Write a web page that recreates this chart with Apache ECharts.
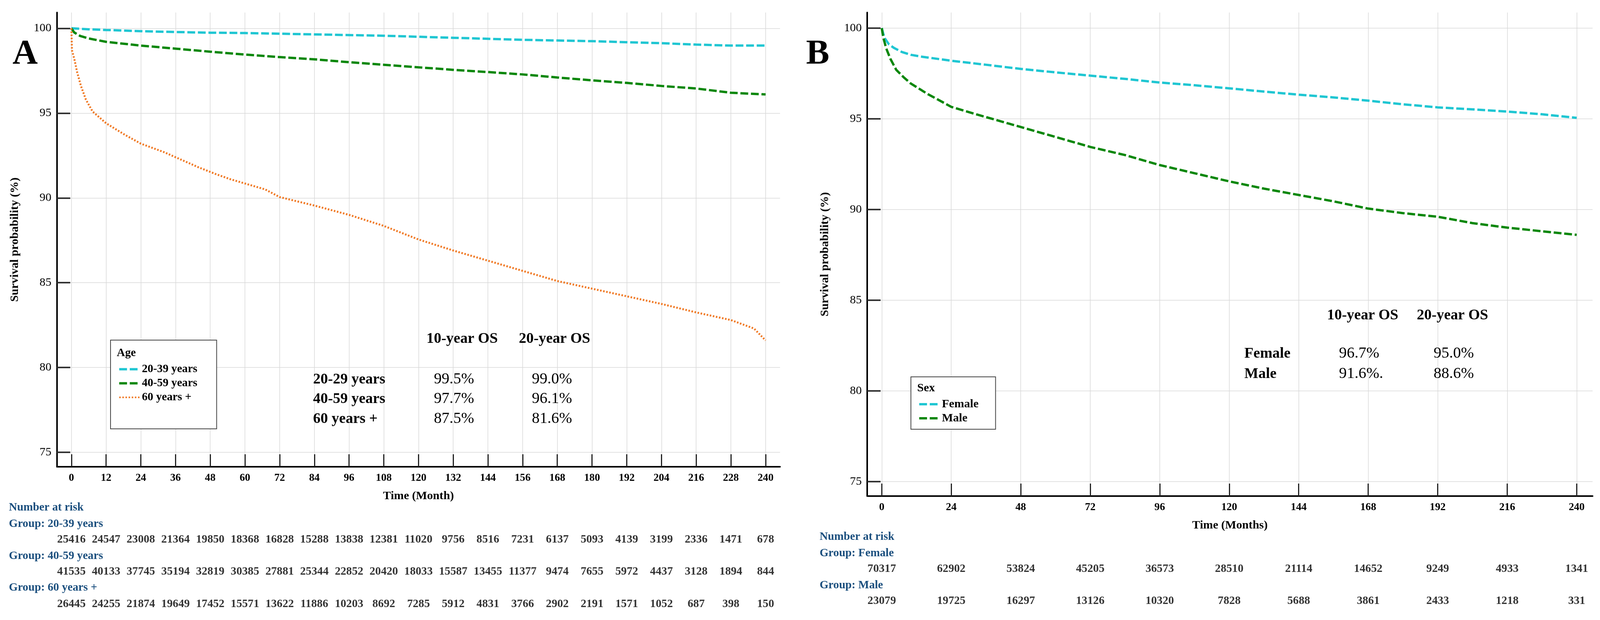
<!DOCTYPE html>
<html><head><meta charset="utf-8">
<script src="https://cdn.jsdelivr.net/npm/echarts@6/dist/echarts.min.js"></script>
<style>html,body{margin:0;padding:0;background:#fff;overflow:hidden}#c{width:100vw;height:100vh}</style>
</head><body><div id="c"></div>
<script>
const FONT = '"Liberation Serif","Times New Roman",serif';
// ---------- data ----------
const ticksA = [0,12,24,36,48,60,72,84,96,108,120,132,144,156,168,180,192,204,216,228,240];
const ticksB = [0,24,48,72,96,120,144,168,192,216,240];
const ticksY = [75,80,85,90,95,100];

const age2039 = [[0,100],[6,99.94],[12,99.9],[24,99.83],[36,99.78],[48,99.74],[60,99.72],[72,99.68],[84,99.64],[96,99.6],[108,99.56],[120,99.5],[132,99.44],[144,99.38],[156,99.32],[168,99.28],[180,99.24],[192,99.18],[204,99.12],[216,99.04],[228,98.98],[240,98.98]];
const age4059 = [[0,100],[1,99.75],[3,99.55],[6,99.4],[12,99.2],[24,98.98],[36,98.8],[48,98.62],[60,98.45],[72,98.3],[84,98.17],[96,98.0],[108,97.85],[120,97.7],[132,97.55],[144,97.42],[156,97.28],[168,97.1],[180,96.93],[192,96.78],[204,96.6],[216,96.45],[228,96.2],[240,96.1]];
const age60 = [[0,100],[0.2,98.7],[1,98.2],[2,97.4],[3.3,96.6],[5,95.8],[7.3,95.1],[12,94.4],[18.7,93.7],[24,93.2],[32,92.7],[38,92.25],[44,91.8],[50,91.4],[55,91.1],[61,90.8],[67,90.5],[72,90.05],[84,89.55],[96,89.0],[108,88.35],[120,87.55],[132,86.9],[144,86.3],[156,85.7],[168,85.1],[180,84.65],[192,84.2],[204,83.75],[216,83.25],[228,82.8],[236,82.3],[240,81.6]];
const female = [[0,100],[0.9,99.47],[2.5,99.1],[4.3,98.9],[7,98.68],[10,98.53],[14,98.42],[18.6,98.32],[24,98.2],[36,97.98],[48,97.75],[60,97.56],[72,97.38],[84,97.2],[96,97.0],[108,96.85],[120,96.68],[132,96.5],[144,96.33],[156,96.18],[168,96.0],[180,95.8],[192,95.63],[204,95.52],[216,95.4],[228,95.25],[240,95.05]];
const male = [[0,100],[0.5,99.5],[1.5,98.9],[3,98.3],[5,97.7],[7.5,97.3],[10,96.95],[15.7,96.38],[24,95.66],[33,95.23],[44,94.73],[60,94.0],[72,93.45],[84,93.0],[96,92.45],[108,92.0],[120,91.55],[132,91.15],[144,90.8],[156,90.45],[168,90.05],[180,89.8],[192,89.6],[204,89.25],[216,89.0],[228,88.8],[240,88.6]];

const riskA2039 = [25416,24547,23008,21364,19850,18368,16828,15288,13838,12381,11020,9756,8516,7231,6137,5093,4139,3199,2336,1471,678];
const riskA4059 = [41535,40133,37745,35194,32819,30385,27881,25344,22852,20420,18033,15587,13455,11377,9474,7655,5972,4437,3128,1894,844];
const riskA60 = [26445,24255,21874,19649,17452,15571,13622,11886,10203,8692,7285,5912,4831,3766,2902,2191,1571,1052,687,398,150];
const riskBF = [70317,62902,53824,45205,36573,28510,21114,14652,9249,4933,1341];
const riskBM = [23079,19725,16297,13126,10320,7828,5688,3861,2433,1218,331];

const osA = {head:['10-year OS','20-year OS'], rows:['20-29 years','40-59 years','60 years +'], v10:['99.5%','97.7%','87.5%'], v20:['99.0%','96.1%','81.6%']};
const osB = {head:['10-year OS','20-year OS'], rows:['Female','Male'], v10:['96.7%','91.6%.'], v20:['95.0%','88.6%']};

// ---------- layout scaling (designed on a 4328 x 1586 canvas) ----------
const el = document.getElementById('c');
const VW = window.innerWidth || 4328, VH = window.innerHeight || 1586;
const sx = VW / 4328, sy = VH / 1586, sf = (sx + sy) / 2;
const X = v => v * sx, Y = v => v * sy, F = v => Math.round(v * sf * 10) / 10;

// ---------- helpers ----------
const CYAN = '#1fc6d2', GREEN = '#0a870a', ORANGE = '#f07a26', BLUE = '#1b4f7e';
const DASH = [20,7], DOT = [4,4];
function plotX(ticks, max, name){
  return {type:'value', min:-5, max:max,
    axisLine:{show:true, onZero:false, lineStyle:{color:'#000', width:4}},
    axisTick:{show:true, inside:true, length:Y(32), customValues:ticks, lineStyle:{color:'#222', width:3}},
    axisLabel:{show:true, customValues:ticks, margin:Y(15), color:'#000', fontSize:F(28), fontWeight:'bold', fontFamily:FONT},
    splitLine:{show:true, lineStyle:{color:'#d8d8d8', width:1.5}},
    name:name, nameLocation:'middle', nameGap:Y(60),
    nameTextStyle:{fontSize:F(31), fontWeight:'bold', color:'#000', fontFamily:FONT}};
}
function plotY(min, max){
  return {type:'value', min:min, max:max,
    axisLine:{show:true, onZero:false, lineStyle:{color:'#000', width:4}},
    axisTick:{show:true, inside:true, length:X(36), customValues:ticksY, lineStyle:{color:'#333', width:4}},
    axisLabel:{show:true, customValues:ticksY, margin:X(15), color:'#000', fontSize:F(31), fontFamily:FONT},
    splitLine:{show:true, lineStyle:{color:'#d8d8d8', width:1.5}},
    name:'Survival probability (%)', nameLocation:'middle', nameGap:X(98),
    nameTextStyle:{fontSize:F(31), fontWeight:'bold', color:'#000', fontFamily:FONT}};
}
function hiddenX(max){ return {type:'value', min:-5, max:max, show:false}; }
function hiddenY(n){ return {type:'value', min:0, max:n, inverse:true, show:false}; }
function curve(name, data, color, dash, width, xi){
  return {type:'line', name:name, data:data, xAxisIndex:xi, yAxisIndex:xi, symbol:'none', smooth:false,
    lineStyle:{color:color, width:width, type:dash, cap:'butt'}, itemStyle:{color:color}, z:3, silent:true};
}
function riskSeries(name, ticks, rows, xi){
  const d = [];
  rows.forEach((r, ri) => r.forEach((v, i) => d.push([ticks[i], ri, v])));
  return {type:'scatter', name:name, data:d, xAxisIndex:xi, yAxisIndex:xi, symbolSize:1,
    itemStyle:{color:'rgba(0,0,0,0)'}, silent:true,
    label:{show:true, position:'inside', formatter:p=>String(p.value[2]), color:'#000', fontSize:F(30), fontWeight:'bold', fontFamily:FONT}};
}
function txt(x, y, s, o){
  const st = Object.assign({text:s, fontFamily:FONT, fill:'#000', fontSize:30, fontWeight:'bold', textVerticalAlign:'middle'}, o||{});
  st.fontSize = F(st.fontSize);
  return {type:'text', x:X(x), y:Y(y), z:10, style:st};
}
function box(x, y, w, h){
  return {type:'rect', z:3, shape:{x:X(x), y:Y(y), width:X(w), height:Y(h)}, style:{fill:'#fff', stroke:'#444', lineWidth:2}};
}
function legItem(name, color, dash, w){
  return {name:name, itemStyle:{opacity:0}, lineStyle:{color:color, width:w, type:dash, cap:'butt'}};
}

const graphics = [
  txt(68, 139, 'A', {fontSize:92, textAlign:'center'}),
  txt(2212, 139, 'B', {fontSize:92, textAlign:'center'}),
  box(299, 870, 287, 227),
  txt(316, 903, 'Age', {fontSize:30}),
  box(2464, 964, 229, 134),
  txt(2481, 993, 'Sex', {fontSize:31}),
  txt(1250, 867, osA.head[0], {fontSize:39, textAlign:'center'}),
  txt(1500, 867, osA.head[1], {fontSize:39, textAlign:'center'}),
  txt(3686, 807, osB.head[0], {fontSize:39, textAlign:'center'}),
  txt(3929, 807, osB.head[1], {fontSize:39, textAlign:'center'}),
  txt(24, 1298, 'Number at risk', {fill:BLUE}),
  txt(24, 1340, 'Group: 20-39 years', {fill:BLUE}),
  txt(24, 1422, 'Group: 40-59 years', {fill:BLUE}),
  txt(24, 1503, 'Group: 60 years +', {fill:BLUE}),
  txt(2217, 1373, 'Number at risk', {fill:BLUE}),
  txt(2217, 1415, 'Group: Female', {fill:BLUE}),
  txt(2217, 1497, 'Group: Male', {fill:BLUE})
];
const rowYA = [971, 1021, 1072];
osA.rows.forEach((r,i)=>{
  graphics.push(txt(847, rowYA[i], r, {fontSize:39}));
  graphics.push(txt(1228, rowYA[i], osA.v10[i], {fontSize:41, fontWeight:'normal', textAlign:'center'}));
  graphics.push(txt(1493, rowYA[i], osA.v20[i], {fontSize:41, fontWeight:'normal', textAlign:'center'}));
});
const rowYB = [905, 957];
osB.rows.forEach((r,i)=>{
  graphics.push(txt(3366, rowYB[i], r, {fontSize:39}));
  graphics.push(txt(3622, rowYB[i], osB.v10[i], {fontSize:41, fontWeight:'normal'}));
  graphics.push(txt(3878, rowYB[i], osB.v20[i], {fontSize:41, fontWeight:'normal'}));
});

function G(l, t, w, h){ return {left:X(l), top:Y(t), width:X(w), height:Y(h)}; }
const option = {
  backgroundColor:'#fff',
  animation:false,
  grid:[ G(154,32,1956,1162), G(154,1380,1956,165), G(2346,32,1962,1237), G(2346,1455,1962,82) ],
  xAxis:[ Object.assign(plotX(ticksA,245,'Time (Month)'),{gridIndex:0}), Object.assign(hiddenX(245),{gridIndex:1}),
          Object.assign(plotX(ticksB,245.5,'Time (Months)'),{gridIndex:2}), Object.assign(hiddenX(245.5),{gridIndex:3}) ],
  yAxis:[ Object.assign(plotY(74.15,100.93),{gridIndex:0}), Object.assign(hiddenY(2),{gridIndex:1}),
          Object.assign(plotY(74.2,100.86),{gridIndex:2}), Object.assign(hiddenY(1),{gridIndex:3}) ],
  legend:[
    {data:[legItem('20-39 years',CYAN,DASH,6), legItem('40-59 years',GREEN,DASH,6), legItem('60 years +',ORANGE,DOT,4)],
     left:X(314), top:Y(925), orient:'vertical', itemGap:Y(7), itemWidth:X(56), itemHeight:Y(30),
     z:6, selectedMode:false, textStyle:{fontSize:F(30), fontWeight:'bold', color:'#000', fontFamily:FONT}},
    {data:[legItem('Female',CYAN,DASH,6), legItem('Male',GREEN,DASH,6)],
     left:X(2478), top:Y(1014), orient:'vertical', itemGap:Y(6), itemWidth:X(56), itemHeight:Y(31),
     z:6, selectedMode:false, textStyle:{fontSize:F(31), fontWeight:'bold', color:'#000', fontFamily:FONT}}
  ],
  graphic:graphics,
  series:[
    curve('20-39 years', age2039, CYAN, DASH, 6, 0),
    curve('40-59 years', age4059, GREEN, DASH, 6, 0),
    curve('60 years +', age60, ORANGE, DOT, 5, 0),
    riskSeries('riskA', ticksA, [riskA2039, riskA4059, riskA60], 1),
    curve('Female', female, CYAN, DASH, 6, 2),
    curve('Male', male, GREEN, DASH, 6, 2),
    riskSeries('riskB', ticksB, [riskBF, riskBM], 3)
  ]
};
const chart = echarts.init(el, null, {renderer:'canvas', width:VW, height:VH});
chart.setOption(option);
</script></body></html>
